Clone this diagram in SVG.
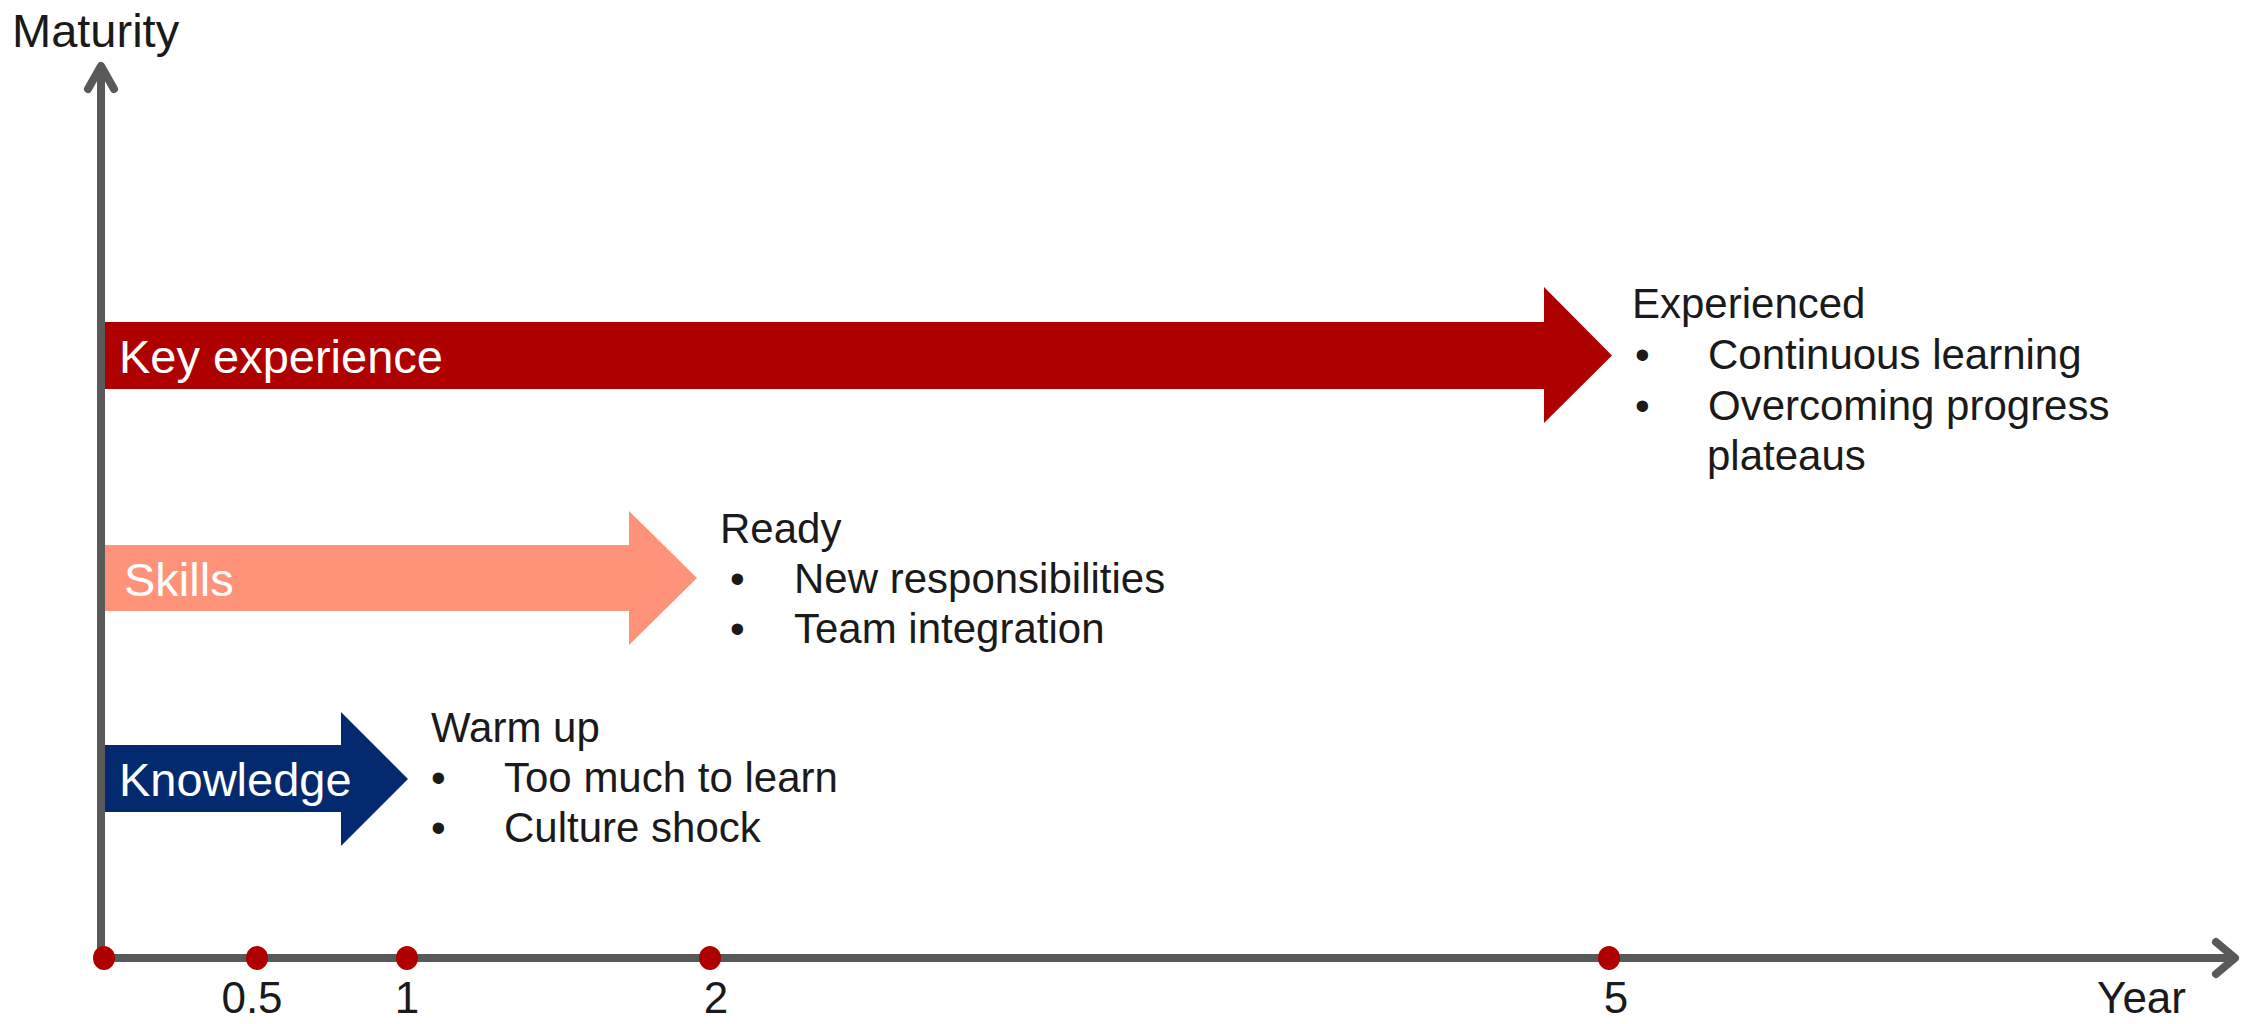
<svg xmlns="http://www.w3.org/2000/svg" width="2243" height="1024" viewBox="0 0 2243 1024">
<style>
  text { font-family: "Liberation Sans", Arial, sans-serif; }
  .lbl { font-size: 47px; fill: #ffffff; }
  .ax { font-size: 47px; fill: #1a1a1a; }
  .tick { font-size: 44px; fill: #1a1a1a; }
  .body { font-size: 42px; fill: #1a1a1a; }
  .axis { stroke: #595959; stroke-width: 8; fill: none; }
  .head { stroke: #595959; stroke-width: 8; fill: none; stroke-linecap: round; stroke-linejoin: round; }
  .dot { fill: #af0000; }
</style>
<rect width="2243" height="1024" fill="#ffffff"/>

<g id="node-key-experience">
  <polygon points="101,322 1544,322 1544,287 1612,355.5 1544,423 1544,389 101,389" fill="#af0000"/>
  <text class="lbl" x="119" y="373">Key experience</text>
</g>
<g id="node-skills">
  <polygon points="101,545 629,545 629,511 697,578 629,645 629,611 101,611" fill="#ff9379"/>
  <text class="lbl" x="124" y="596">Skills</text>
</g>
<g id="node-knowledge">
  <polygon points="101,745 341,745 341,712 408,779 341,846 341,812 101,812" fill="#03296e"/>
  <text class="lbl" x="119" y="796">Knowledge</text>
</g>

<g id="node-experienced">
  <text class="body" x="1632" y="318">Experienced</text>
  <text class="body" x="1635" y="369">•</text>
  <text class="body" x="1708" y="369">Continuous learning</text>
  <text class="body" x="1635" y="420">•</text>
  <text class="body" x="1708" y="420">Overcoming progress</text>
  <text class="body" x="1707" y="470">plateaus</text>
</g>
<g id="node-ready">
  <text class="body" x="720" y="543">Ready</text>
  <text class="body" x="730" y="593">•</text>
  <text class="body" x="794" y="593">New responsibilities</text>
  <text class="body" x="730" y="643">•</text>
  <text class="body" x="794" y="643">Team integration</text>
</g>
<g id="node-warmup">
  <text class="body" x="431" y="742">Warm up</text>
  <text class="body" x="431" y="792">•</text>
  <text class="body" x="504" y="792">Too much to learn</text>
  <text class="body" x="431" y="842">•</text>
  <text class="body" x="504" y="842">Culture shock</text>
</g>

<g id="connectors">
  <line class="axis" x1="101" y1="68" x2="101" y2="962"/>
  <polyline class="head" points="88,89 101,66 114,89"/>
  <line class="axis" x1="101" y1="958" x2="2232" y2="958"/>
  <polyline class="head" points="2216,942 2235,958 2216,974"/>
</g>

<g id="ticks">
  <ellipse class="dot" cx="104" cy="958" rx="11" ry="12"/>
  <ellipse class="dot" cx="257" cy="958" rx="11" ry="12"/>
  <ellipse class="dot" cx="407" cy="958" rx="11" ry="12"/>
  <ellipse class="dot" cx="710" cy="958" rx="11" ry="12"/>
  <ellipse class="dot" cx="1609" cy="958" rx="11" ry="12"/>
  <text class="tick" x="252" y="1013" text-anchor="middle">0.5</text>
  <text class="tick" x="407" y="1013" text-anchor="middle">1</text>
  <text class="tick" x="716" y="1013" text-anchor="middle">2</text>
  <text class="tick" x="1616" y="1013" text-anchor="middle">5</text>
  <text class="tick" x="2186" y="1013" text-anchor="end">Year</text>
  <text class="ax" x="12" y="47">Maturity</text>
</g>
</svg>
